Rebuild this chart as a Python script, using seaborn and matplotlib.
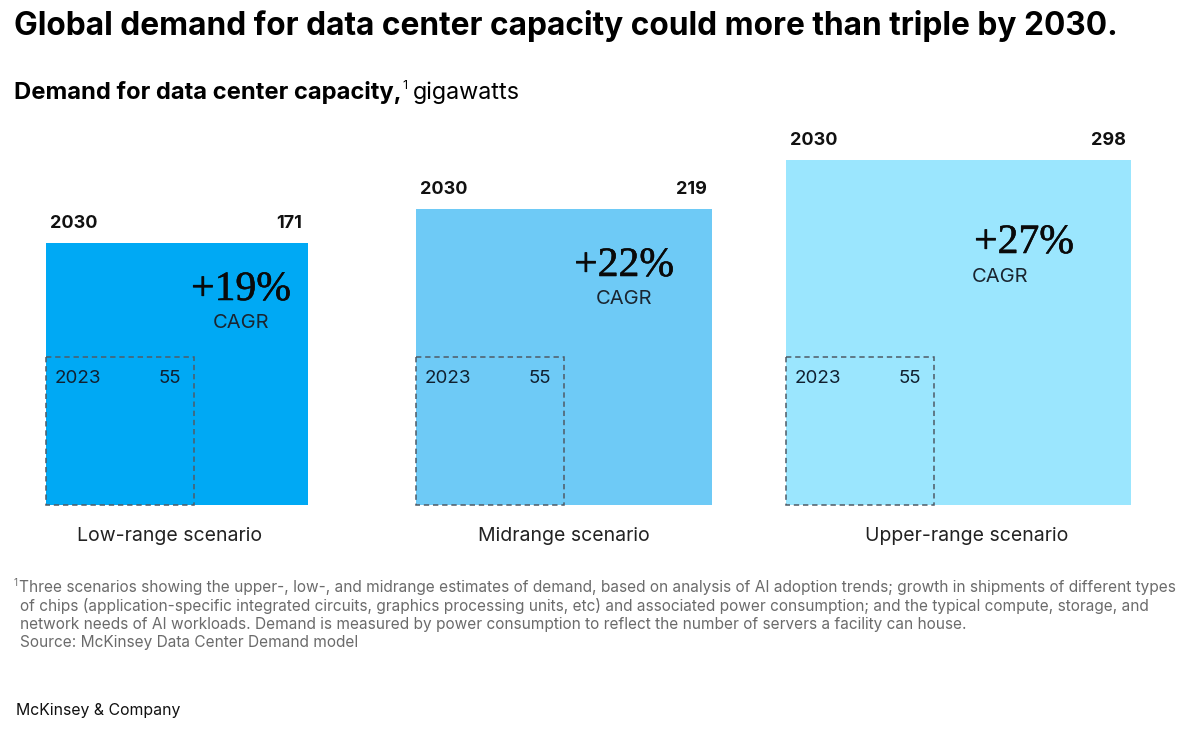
import numpy as np
import pandas as pd
import seaborn as sns
import matplotlib.pyplot as plt
import matplotlib.patheffects as pe

sns.set_theme(style="white")
plt.rcParams['font.family'] = ['Inter', 'DejaVu Sans']

# Data
scenarios = ["Low-range scenario", "Midrange scenario", "Upper-range scenario"]
demand_2030 = [171, 219, 298]
demand_2023 = 55
cagr = ["+19%", "+22%", "+27%"]
colors = ["#00A9F4", "#6ECAF6", "#9BE6FE"]

footnote = [
    "Three scenarios showing the upper-, low-, and midrange estimates of demand, based on analysis of AI adoption trends; growth in shipments of different types",
    "of chips (application-specific integrated circuits, graphics processing units, etc) and associated power consumption; and the typical compute, storage, and",
    "network needs of AI workloads. Demand is measured by power consumption to reflect the number of servers a facility can house.",
    "Source: McKinsey Data Center Demand model",
]

df = pd.DataFrame({"scenario": scenarios, "gw": demand_2030, "cagr": cagr, "color": colors})

# layout in pixel units: square side grows with sqrt of demand
px = 20.0
base_y = 505
df["left"] = 46 + 370 * np.arange(len(df))
df["side"] = px * np.sqrt(df["gw"])
side_old = px * np.sqrt(demand_2023)

fig = plt.figure(figsize=(12, 7.37), dpi=100)
ax = fig.add_axes([0, 0, 1, 1])
ax.set_xlim(0, 1200)
ax.set_ylim(737, 0)
ax.axis('off')

# 2030 squares
ax.bar(df["left"], df["side"], width=df["side"], bottom=base_y - df["side"],
       align='edge', color=df["color"], linewidth=0)
# 2023 squares (dashed outline)
ax.bar(df["left"], side_old, width=side_old, bottom=base_y - side_old,
       align='edge', fill=False, edgecolor='#4f5b66', linewidth=1.1,
       linestyle=(0, (3.5, 2.5)))

# CAGR label positions (center x, baseline y) and CAGR alignment
cagr_pos = [(241, 300, 'center'), (624, 276, 'center'), (1024, 253, 'left')]
label_shift = [-7, 0, 8]

for i, r in df.iterrows():
    top = base_y - r["side"]
    right = r["left"] + r["side"]
    ax.text(r["left"] + 4, top - 15, "2030", fontsize=13, fontweight='bold',
            color='#111111', va='baseline', ha='left')
    ax.text(right - 5, top - 15, str(r["gw"]), fontsize=13, fontweight='bold',
            color='#111111', va='baseline', ha='right')
    # 2023 labels
    ax.text(r["left"] + 9, base_y - side_old + 26, "2023", fontsize=13.5,
            color='#102030', va='baseline', ha='left')
    ax.text(r["left"] + side_old - 13, base_y - side_old + 26, str(demand_2023),
            fontsize=13.5, color='#102030', va='baseline', ha='right')
    # CAGR
    cx, cy, align = cagr_pos[i]
    ax.text(cx, cy, r["cagr"], fontsize=30, family='Liberation Serif',
            color='#0a0a0a', va='baseline', ha='center',
            path_effects=[pe.withStroke(linewidth=0.4, foreground='#0a0a0a')])
    if align == 'center':
        ax.text(cx, cy + 28, "CAGR", fontsize=14.5, color='#1a2530',
                va='baseline', ha='center')
    else:
        ax.text(cx - 52, cy + 29, "CAGR", fontsize=14.5, color='#1a2530',
                va='baseline', ha='left')
    # scenario label
    ax.text(r["left"] + r["side"] / 2 + label_shift[i], 541, r["scenario"],
            fontsize=14, color='#222222', va='baseline', ha='center')

# titles
ax.text(14, 35, "Global demand for data center capacity could more than triple by 2030.",
        fontsize=22.8, fontweight='bold', color='#000000', va='baseline', ha='left')

sub = ax.text(14, 99, "Demand for data center capacity,", fontsize=17.1,
              fontweight='bold', color='#000000', va='baseline', ha='left')
fig.canvas.draw()
rend = fig.canvas.get_renderer()
inv = ax.transData.inverted()
x_end = inv.transform(sub.get_window_extent(rend).get_points())[1][0]
sup = ax.text(x_end + 1, 89, "1", fontsize=9, color='#000000', va='baseline', ha='left')
fig.canvas.draw()
x_end2 = inv.transform(sup.get_window_extent(rend).get_points())[1][0]
ax.text(x_end2 + 5, 99, "gigawatts", fontsize=16.8, color='#000000',
        va='baseline', ha='left')

# footnote
ax.text(13, 586, "1", fontsize=7, color='#6b6b6b', va='baseline', ha='left')
for k, line in enumerate(footnote):
    ax.text(19 if k == 0 else 20, 592 + 18.5 * k, line, fontsize=11.1,
            color='#6b6b6b', va='baseline', ha='left')

ax.text(16, 715, "McKinsey & Company", fontsize=11.4, color='#111111',
        va='baseline', ha='left')

fig.savefig('out.png', dpi=100)
